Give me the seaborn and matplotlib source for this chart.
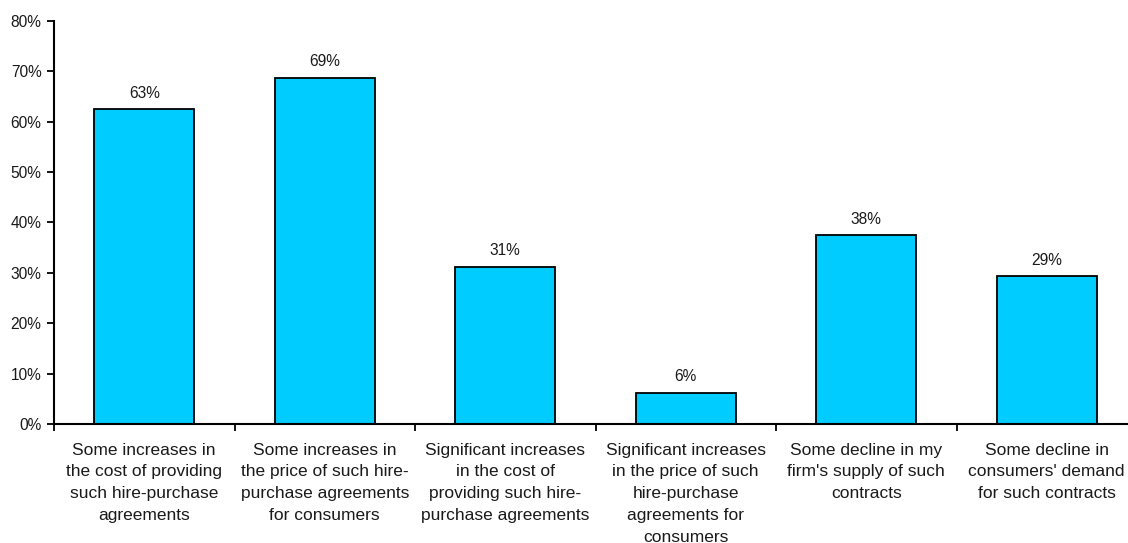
import matplotlib
matplotlib.use("Agg")
import matplotlib.pyplot as plt
from matplotlib.ticker import FixedLocator, PercentFormatter
import seaborn as sns
import pandas as pd
import numpy as np

categories = [
    "Some increases in\nthe cost of providing\nsuch hire-purchase\nagreements",
    "Some increases in\nthe price of such hire-\npurchase agreements\nfor consumers",
    "Significant increases\nin the cost of\nproviding such hire-\npurchase agreements",
    "Significant increases\nin the price of such\nhire-purchase\nagreements for\nconsumers",
    "Some decline in my\nfirm's supply of such\ncontracts",
    "Some decline in\nconsumers' demand\nfor such contracts",
]
shares = [62.5, 68.75, 31.25, 6.25, 37.5, 29.4]

df = pd.DataFrame({"category": categories, "share": shares})

sns.set_theme(style="white")
plt.rcParams["font.family"] = ["Liberation Sans", "DejaVu Sans"]

fig = plt.figure(figsize=(11.28, 5.43), dpi=100)
ax = fig.add_axes([54 / 1128, 1 - 424 / 543, (1128 - 54) / 1128, (424 - 21) / 543])

sns.barplot(data=df, x="category", y="share", color="#00CCFF", saturation=1,
            edgecolor="black", linewidth=1.3, width=0.555, ax=ax)

for i, v in enumerate(shares):
    ax.annotate(f"{int(np.floor(v + 0.5))}%", (i, v), xytext=(0, 6),
                textcoords="offset points", ha="center", va="bottom",
                fontsize=11.2, color="#1a1a1a")

ax.set_ylim(0, 80)
ax.set_xlim(-0.5, -0.5 + (1128 - 54) / 180.5)
ax.yaxis.set_major_locator(FixedLocator(np.arange(0, 81, 10)))
ax.yaxis.set_major_formatter(PercentFormatter(decimals=0))

ax.set_xticks(range(len(categories)))
ax.set_xticklabels(categories, fontsize=12.5, color="#1a1a1a", linespacing=1.56)
ax.xaxis.set_minor_locator(FixedLocator(np.arange(-0.5, len(categories) + 0.5, 1)))
ax.tick_params(axis="x", which="major", length=0, pad=13.5)
ax.tick_params(axis="x", which="minor", length=5, width=1.3, color="black", direction="out", bottom=True)
ax.tick_params(axis="y", which="major", length=5, width=1.3, color="black", direction="out",
               left=True, pad=4, labelsize=11.2, labelcolor="#1a1a1a")

ax.set_xlabel("")
ax.set_ylabel("")
for side in ("top", "right"):
    ax.spines[side].set_visible(False)
for side in ("left", "bottom"):
    ax.spines[side].set_color("black")
    ax.spines[side].set_linewidth(1.5)

fig.savefig("out.png", dpi=100)
